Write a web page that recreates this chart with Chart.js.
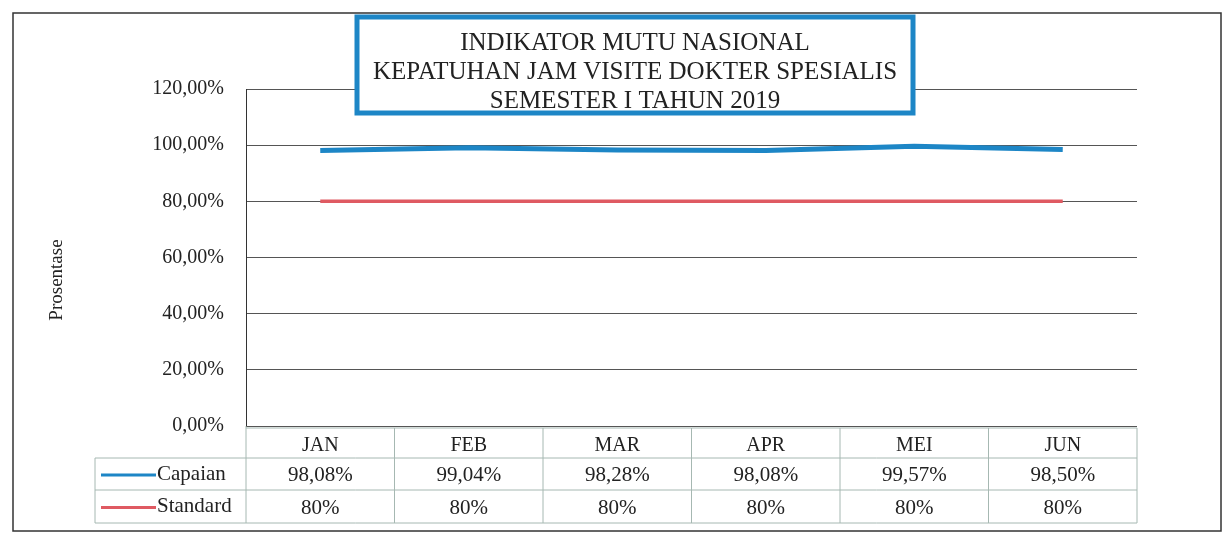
<!DOCTYPE html>
<html>
<head>
<meta charset="utf-8">
<script src="https://cdn.jsdelivr.net/npm/chart.js@4/dist/chart.umd.min.js"></script>
<style>
  html, body { margin: 0; padding: 0; background: #fff; }
  #wrap { width: 1224px; height: 534px; position: relative; }
</style>
</head>
<body>
<div id="wrap"><canvas id="chart" width="1224" height="534"></canvas></div>
<script>
const months = ["JAN", "FEB", "MAR", "APR", "MEI", "JUN"];
const capaian = [98.08, 99.04, 98.28, 98.08, 99.57, 98.50];
const standard = [80, 80, 80, 80, 80, 80];
const yTicks = [0, 20, 40, 60, 80, 100, 120];
const titleLines = ["INDIKATOR MUTU NASIONAL", "KEPATUHAN JAM VISITE DOKTER SPESIALIS", "SEMESTER I TAHUN 2019"];
const yTitle = "Prosentase";

const serif = "'Liberation Serif', 'DejaVu Serif', serif";
const blue = "#1d86c6";
const red = "#df5a62";
const tableLine = "#a6b8b2";

function fmt(v, dec) {
  return v.toFixed(dec).replace(".", ",") + "%";
}

const extras = {
  id: "extras",
  afterDraw(chart) {
    const ctx = chart.ctx;
    const x = chart.scales.x;
    const area = chart.chartArea;
    ctx.save();

    // outer frame
    ctx.strokeStyle = "#333";
    ctx.lineWidth = 1.5;
    ctx.strokeRect(13, 13, 1208, 518);

    // y axis title
    ctx.fillStyle = "#222";
    ctx.font = "19px " + serif;
    ctx.textAlign = "center";
    ctx.textBaseline = "middle";
    ctx.save();
    ctx.translate(57, 280);
    ctx.rotate(-Math.PI / 2);
    ctx.fillText(yTitle, 0, 0);
    ctx.restore();

    // data table
    const rows = [area.bottom + 2, 458, 490, 523];
    const left = area.left, right = area.right;
    const step = (right - left) / months.length;
    const labelLeft = 95;
    ctx.strokeStyle = tableLine;
    ctx.lineWidth = 1;
    ctx.beginPath();
    ctx.moveTo(left, rows[0]); ctx.lineTo(right, rows[0]);
    for (let r = 1; r < rows.length; r++) {
      ctx.moveTo(labelLeft, rows[r]); ctx.lineTo(right, rows[r]);
    }
    ctx.moveTo(labelLeft, rows[1]); ctx.lineTo(labelLeft, rows[3]);
    for (let i = 0; i <= months.length; i++) {
      const cx = left + i * step;
      ctx.moveTo(cx, i === 0 ? area.bottom : rows[0]);
      ctx.lineTo(cx, rows[3]);
    }
    ctx.stroke();

    ctx.fillStyle = "#222";
    months.forEach((m, i) => {
      const cx = x.getPixelForValue(i);
      ctx.font = "20px " + serif;
      ctx.fillText(m, cx, (rows[0] + rows[1]) / 2 + 3);
      ctx.font = "21px " + serif;
      ctx.fillText(fmt(capaian[i], 2), cx, (rows[1] + rows[2]) / 2 + 1);
      ctx.fillText(standard[i] + "%", cx, (rows[2] + rows[3]) / 2 + 2);
    });

    // legend keys inside the table
    const keys = [["Capaian", blue, rows[1], rows[2]], ["Standard", red, rows[2], rows[3]]];
    ctx.font = "21px " + serif;
    keys.forEach(([name, col, t, b]) => {
      const cy = (t + b) / 2;
      ctx.strokeStyle = col;
      ctx.lineWidth = 3;
      ctx.beginPath();
      ctx.moveTo(101, cy + 1); ctx.lineTo(156, cy + 1);
      ctx.stroke();
      ctx.textAlign = "left";
      ctx.fillText(name, 157, cy);
    });

    // title box
    ctx.fillStyle = "#fff";
    ctx.fillRect(357, 17, 556, 96);
    ctx.strokeStyle = blue;
    ctx.lineWidth = 5;
    ctx.strokeRect(357, 17, 556, 96);
    ctx.fillStyle = "#222";
    ctx.font = "25px " + serif;
    ctx.textAlign = "center";
    titleLines.forEach((t, i) => ctx.fillText(t, 635, 43 + i * 29));

    ctx.restore();
  }
};

new Chart(document.getElementById("chart"), {
  type: "line",
  data: {
    labels: months,
    datasets: [
      { label: "Capaian", data: capaian, borderColor: blue, borderWidth: 5, pointRadius: 0, tension: 0 },
      { label: "Standard", data: standard, borderColor: red, borderWidth: 3.5, pointRadius: 0, tension: 0 }
    ]
  },
  options: {
    responsive: false,
    animation: false,
    layout: { padding: { left: 0, top: 89, right: 87, bottom: 108 } },
    plugins: { legend: { display: false }, tooltip: { enabled: false } },
    scales: {
      x: { display: false, offset: true },
      y: {
        min: 0,
        max: 120,
        afterBuildTicks: s => { s.ticks = yTicks.map(v => ({ value: v })); },
        afterFit: s => { s.width = 246; },
        border: { color: "#333", width: 1 },
        grid: { color: "#555", lineWidth: 1, drawTicks: false },
        ticks: {
          padding: 22,
          color: "#222",
          font: { family: serif, size: 20 },
          callback: v => fmt(v, 2)
        },
        title: { display: false }
      }
    }
  },
  plugins: [extras]
});
</script>
</body>
</html>
